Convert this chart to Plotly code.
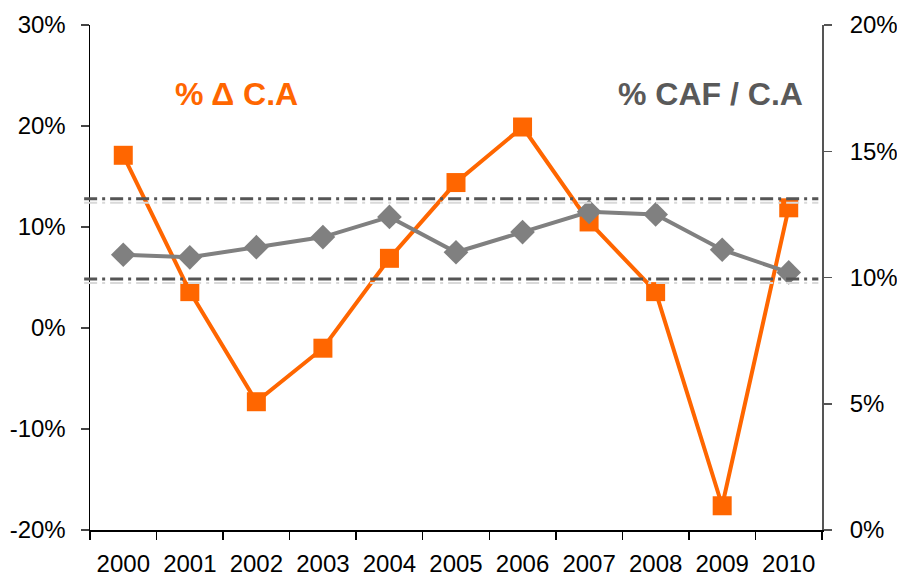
import plotly.graph_objects as go

years = ["2000", "2001", "2002", "2003", "2004", "2005", "2006", "2007", "2008", "2009", "2010"]
delta_ca = [17.1, 3.6, -7.3, -2.0, 6.9, 14.4, 19.9, 10.5, 3.6, -17.6, 11.9]      # % Δ C.A (left axis)
caf_ca = [10.9, 10.8, 11.2, 11.6, 12.4, 11.0, 11.8, 12.6, 12.5, 11.1, 10.2]       # % CAF / C.A (right axis)
left_ticks = [-20, -10, 0, 10, 20, 30]
right_ticks = [0, 5, 10, 15, 20]
ref_levels = [12.8, 4.85]  # dash-dot reference lines (left axis scale)

ORANGE = "#FF6600"
GRAY = "#808080"
FONT = "Liberation Sans, Arial, sans-serif"
NBSP = "\u00a0"

fig = go.Figure()
fig.add_trace(go.Scatter(x=years, y=delta_ca, mode="lines+markers", yaxis="y",
                         line=dict(color=ORANGE, width=4),
                         marker=dict(symbol="square", size=19, color=ORANGE),
                         showlegend=False, hoverinfo="skip"))
fig.add_trace(go.Scatter(x=years, y=caf_ca, mode="lines+markers", yaxis="y2",
                         line=dict(color=GRAY, width=4),
                         marker=dict(symbol="diamond", size=19, color=GRAY),
                         showlegend=False, hoverinfo="skip"))

shapes = []
for lv in ref_levels:
    shapes.append(dict(type="line", xref="paper", yref="y", x0=-0.008, x1=0.995, y0=lv - 0.4, y1=lv - 0.4,
                       line=dict(color="#d9d9d9", width=2, dash="13px,5px,3px,5px"), layer="above"))
    shapes.append(dict(type="line", xref="paper", yref="y", x0=-0.008, x1=0.995, y0=lv, y1=lv,
                       line=dict(color="#555555", width=3, dash="13px,5px,3px,5px"), layer="above"))

fig.update_layout(
    width=897, height=578,
    margin=dict(l=90, r=75, t=25, b=48, autoexpand=False),
    paper_bgcolor="white", plot_bgcolor="rgba(0,0,0,0)",
    font=dict(family=FONT, size=24, color="black"),
    shapes=shapes,
    xaxis=dict(type="category", categoryorder="array", categoryarray=years,
               range=[-0.5, 10.5], showgrid=False, zeroline=False, automargin=False,
               showline=True, linecolor="black", linewidth=1.5,
               ticks="outside", ticklen=8, tickcolor="black", tickwidth=1.5,
               ticklabelstandoff=12,
               tickson="boundaries", tickfont=dict(size=24, color="black")),
    xaxis2=dict(overlaying="x", range=[-0.5, 10.5], showgrid=False, zeroline=False,
                showline=False, showticklabels=False, ticks="inside", ticklen=8,
                tickcolor="black", tickwidth=1.5, automargin=False,
                tickvals=[i + 0.5 for i in range(len(years) - 1)]),
    yaxis=dict(range=[-20, 30], tickvals=left_ticks, ticktext=[f"{v}%" for v in left_ticks],
               showgrid=False, zeroline=False, showline=True, linecolor="black", linewidth=1.5,
               ticks="outside", ticklen=8, tickcolor="#444444", tickwidth=1.5,
               ticklabelstandoff=10, automargin=False,
               tickfont=dict(size=24, color="black")),
    yaxis2=dict(range=[0, 20], overlaying="y", side="right", tickvals=right_ticks,
                ticktext=[f"{NBSP}{NBSP}{v}%" for v in right_ticks], showgrid=False, zeroline=False,
                showline=True, linecolor="#555555", linewidth=1.5,
                ticks="outside", ticklen=8, tickcolor="#555555", tickwidth=1.5,
                automargin=False,
                tickfont=dict(size=24, color="black")),
    yaxis3=dict(range=[-20, 30], overlaying="y", side="left", tickvals=left_ticks,
                showticklabels=False, showgrid=False, zeroline=False, showline=False,
                ticks="inside", ticklen=8, tickcolor="#444444", tickwidth=1.5, automargin=False),
    yaxis4=dict(range=[0, 20], overlaying="y", side="right", tickvals=right_ticks,
                showticklabels=False, showgrid=False, zeroline=False, showline=False,
                ticks="inside", ticklen=8, tickcolor="#555555", tickwidth=1.5, automargin=False),
    annotations=[
        dict(text="<b>% Δ C.A</b>", xref="paper", yref="paper", x=0.2, y=0.863,
             xanchor="center", yanchor="middle",
             showarrow=False, font=dict(size=32, color=ORANGE, family=FONT)),
        dict(text="<b>% CAF / C.A</b>", xref="paper", yref="paper", x=0.847, y=0.863,
             xanchor="center", yanchor="middle",
             showarrow=False, font=dict(size=32, color="#595959", family=FONT)),
    ],
)

fig.write_html("out.html", config={"displayModeBar": False, "staticPlot": True},
               post_script="document.body.style.margin='0px';document.body.style.overflow='hidden';")
